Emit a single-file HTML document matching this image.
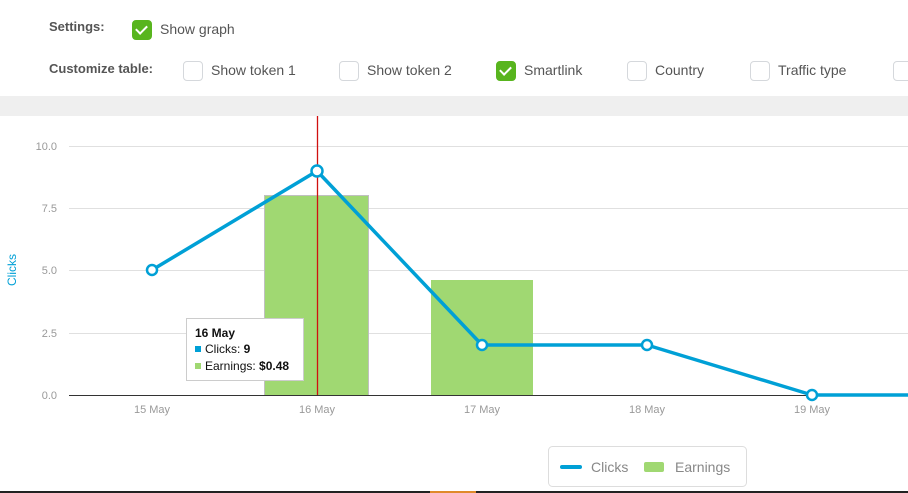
<!DOCTYPE html>
<html><head><meta charset="utf-8"><style>
body{margin:0;width:908px;height:493px;overflow:hidden;background:#fff;font-family:"Liberation Sans","DejaVu Sans",sans-serif;position:relative}
.lbl{position:absolute;font-size:13px;font-weight:bold;color:#555}
.cb{position:absolute;width:18px;height:18px;border:1px solid #d5d8dc;border-radius:4px;background:#fff}
.cb.on{background:#58b51e;border-color:#58b51e}
.cb.on:after{content:"";position:absolute;left:5px;top:2px;width:5px;height:9px;border:solid #fff;border-width:0 2px 2px 0;transform:rotate(45deg)}
.t{position:absolute;font-size:14px;color:#555}
</style></head><body>
<div class="lbl" style="left:49px;top:19px">Settings:</div>
<div class="cb on" style="left:132px;top:20px"></div><div class="t" style="left:160px;top:21px">Show graph</div>
<div class="lbl" style="left:49px;top:61px">Customize table:</div>
<div class="cb" style="left:183px;top:61px"></div><div class="t" style="left:211px;top:62px">Show token 1</div>
<div class="cb" style="left:339px;top:61px"></div><div class="t" style="left:367px;top:62px">Show token 2</div>
<div class="cb on" style="left:496px;top:61px"></div><div class="t" style="left:524px;top:62px">Smartlink</div>
<div class="cb" style="left:627px;top:61px"></div><div class="t" style="left:655px;top:62px">Country</div>
<div class="cb" style="left:750px;top:61px"></div><div class="t" style="left:778px;top:62px">Traffic type</div>
<div class="cb" style="left:893px;top:61px"></div>
<div style="position:absolute;left:0;top:96px;width:908px;height:20px;background:#efefef"></div>
<svg width="908" height="493" style="position:absolute;left:0;top:0" font-family="Liberation Sans, sans-serif">
<g stroke="#e0e0e0" stroke-width="1">
<line x1="69" y1="146.5" x2="908" y2="146.5"/><line x1="69" y1="208.5" x2="908" y2="208.5"/><line x1="69" y1="270.5" x2="908" y2="270.5"/><line x1="69" y1="333.5" x2="908" y2="333.5"/>
</g>
<g font-size="11" fill="#999" text-anchor="end">
<text x="57" y="150">10.0</text><text x="57" y="212">7.5</text><text x="57" y="274">5.0</text><text x="57" y="337">2.5</text><text x="57" y="399">0.0</text>
</g>
<text transform="translate(16,270) rotate(-90)" font-size="12" fill="#00a0d6" text-anchor="middle">Clicks</text>
<rect x="264.5" y="195.5" width="104" height="200" fill="#a0d872" stroke="#c0c0c0"/>
<rect x="431" y="280" width="102" height="115" fill="#a0d872"/>
<line x1="317.5" y1="116" x2="317.5" y2="395" stroke="#d01010" stroke-width="1.3"/>
<line x1="69" y1="395.5" x2="908" y2="395.5" stroke="#333"/>
<polyline points="152,270 317,171 482,345 647,345 812,395 908,395" fill="none" stroke="#00a0d6" stroke-width="3.5" stroke-linejoin="round"/>
<g fill="#fff" stroke="#00a0d6" stroke-width="2.5">
<circle cx="152" cy="270" r="5"/><circle cx="317" cy="171" r="5.5"/><circle cx="482" cy="345" r="5"/><circle cx="647" cy="345" r="5"/><circle cx="812" cy="395" r="5"/>
</g>
<g font-size="11" fill="#999" text-anchor="middle">
<text x="152" y="413">15 May</text><text x="317" y="413">16 May</text><text x="482" y="413">17 May</text><text x="647" y="413">18 May</text><text x="812" y="413">19 May</text>
</g>
<rect x="186.5" y="318.5" width="117" height="62" fill="#fff" stroke="#ccc"/>
<text x="195" y="337" font-size="12" font-weight="bold" fill="#111">16 May</text>
<rect x="195" y="346" width="6" height="6" fill="#00a0d6"/>
<text x="205" y="353" font-size="12" fill="#111">Clicks: <tspan font-weight="bold">9</tspan></text>
<rect x="195" y="363" width="6" height="6" fill="#a0d872"/>
<text x="205" y="370" font-size="12" fill="#111">Earnings: <tspan font-weight="bold">$0.48</tspan></text>
<rect x="548.5" y="446.5" width="198" height="40" rx="4" fill="#fff" stroke="#ddd"/>
<line x1="562" y1="467" x2="580" y2="467" stroke="#00a0d6" stroke-width="4" stroke-linecap="round"/>
<text x="591" y="472" font-size="14" fill="#888">Clicks</text>
<rect x="644" y="462" width="20" height="10" rx="2" fill="#a0d872"/>
<text x="675" y="472" font-size="14" fill="#888">Earnings</text>
<rect x="0" y="491" width="908" height="2" fill="#222"/>
<rect x="430" y="491" width="46" height="2" fill="#e08a2a"/>
</svg>
</body></html>
